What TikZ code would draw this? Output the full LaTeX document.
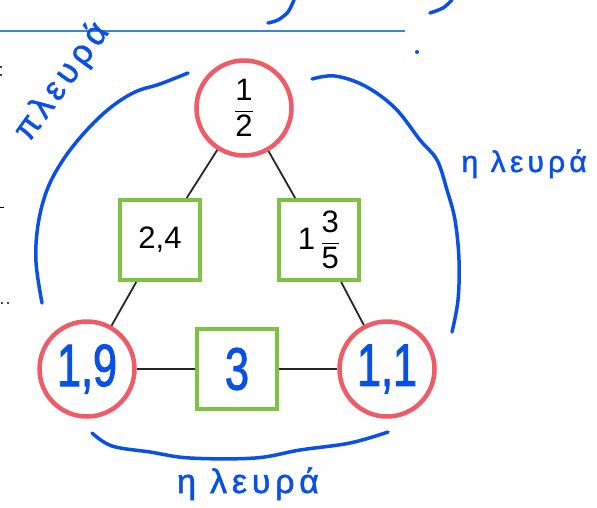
\documentclass[tikz,border=0pt]{standalone}
\usepackage{fontspec}
\usepackage{amsmath}
\usetikzlibrary{positioning, calc}
\setmainfont{Liberation Sans}
\newfontfamily\handfont{Liberation Sans}[FakeStretch=0.72, FakeBold=1.5]
\newfontfamily\greekhand{Liberation Sans}[LetterSpace=14, FakeBold=1.5]

\definecolor{circred}{RGB}{239,91,103}
\definecolor{boxgreen}{RGB}{125,194,66}
\definecolor{ink}{RGB}{10,80,230}
\definecolor{ruleblue}{RGB}{58,135,201}

\begin{document}
\begin{tikzpicture}[
    x=1pt, y=-1pt,
    ring/.style={draw=circred, line width=4.5pt, circle, minimum size=95pt, inner sep=0pt, fill=white},
    tile/.style={draw=boxgreen, line width=4pt, rectangle, minimum size=80pt, inner sep=0pt, fill=white},
    print/.style={font=\fontsize{31}{33}\selectfont},
    handnum/.style={text=ink, font=\handfont\fontsize{60}{60}\selectfont},
    handword/.style={text=ink, font=\greekhand\fontsize{34}{36}\selectfont},
    link/.style={draw=black!85, line width=1.8pt},
    pen/.style={draw=ink, line width=3.5pt, line cap=round, line join=round}
]
\useasboundingbox (0,0) rectangle (597,507);

% Nodes
\node[ring, print] (half) at (244,108) {$\dfrac{\text{1}}{\text{2}}$};
\node[ring, handnum] (left) at (87,369) {1,9};
\node[ring, handnum] (right) at (387,369) {1,1};
\node[tile, print] (twofour) at (160,240) {2,4};
\node[tile, print] (onethreefifths) at (319,240) {1\,$\dfrac{\text{3}}{\text{5}}$};
\node[tile, handnum] (three) at ($(left)!0.5!(right)$) {3};

% Lines
\draw[link] (half) -- (twofour) -- (left);
\draw[link] (half) -- (onethreefifths) -- (right);
\draw[link] (left) -- (three) -- (right);

% Ruled line of the page
\draw[ruleblue, line width=2pt] (0,31) -- (405,31);

% Pen strokes round the sides
\draw[pen] plot[smooth, tension=0.6] coordinates {(42,303) (36,262) (38,225) (47,190) (63,160) (85,132) (110,108) (135,92) (160,84) (188,73)};
\draw[pen] plot[smooth, tension=0.6] coordinates {(312,79) (335,76) (365,86) (395,108) (420,140) (437,160) (447,190) (455,220) (459,260) (458,300) (452,332)};
\draw[pen] plot[smooth, tension=0.6] coordinates {(92,433) (112,446) (150,452) (190,458) (255,458) (300,450) (350,443) (388,432)};
\draw[pen] plot[smooth] coordinates {(294,0) (288,12) (278,20) (268,23)};
\draw[pen] plot[smooth] coordinates {(452,0) (443,8) (430,13)};
\fill[ink] (417,52) circle (2pt);

% Words
\node[handword, rotate=54] (sideleft) at (62,82) {πλευρά};
\node[handword, font=\greekhand\fontsize{30}{32}\selectfont, anchor=base west] (sideright) at (458,172) {η λευρά};
\node[handword, anchor=base] (sidebottom) at (248,493) {η λευρά};

% Cut-off marks at the edge
\fill (1,67) circle (1.2pt);
\fill (1,75) circle (1.2pt);
\draw[line width=1pt] (0,207) -- (4,207);
\fill (2,303) circle (1.2pt);
\fill (8,303) circle (1.2pt);
\end{tikzpicture}
\end{document}
